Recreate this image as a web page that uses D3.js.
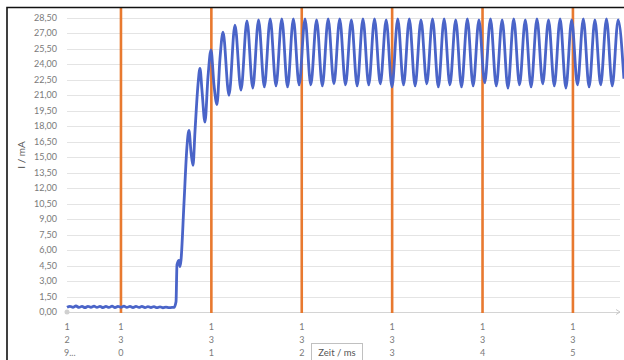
<!DOCTYPE html>
<html>
<head>
<meta charset="utf-8">
<script src="https://cdn.jsdelivr.net/npm/d3@7"></script>
<style>
  body { margin: 0; background: #fff; }
  svg { display: block; font-family: Lato, "Open Sans", sans-serif; }
</style>
</head>
<body>
<div class="canvas"></div>
<script>
// time axis (ms) - vertical char labels like the excel export
const xTickValues = [129.403, 130, 131, 132, 133, 134, 135];
const xTickLabels = ['129...', '130', '131', '132', '133', '134', '135'];
const markerTimes = [130, 131, 132, 133, 134, 135];

const yTickValues = [0, 1.5, 3, 4.5, 6, 7.5, 9, 10.5, 12, 13.5, 15, 16.5, 18, 19.5, 21, 22.5, 24, 25.5, 27, 28.5];
const yTickLabels = ['0,00', '1,50', '3,00', '4,50', '6,00', '7,50', '9,00', '10,50', '12,00', '13,50',
  '15,00', '16,50', '18,00', '19,50', '21,00', '22,50', '24,00', '25,50', '27,00', '28,50'];

// current trace (ms, mA)
const timeMs = [
  129.403, 129.436, 129.469, 129.502, 129.536, 129.569, 129.602, 129.635, 129.668, 129.702,
  129.735, 129.768, 129.801, 129.834, 129.868, 129.901, 129.934, 129.967, 130.000, 130.033,
  130.066, 130.100, 130.133, 130.166, 130.199, 130.232, 130.266, 130.299, 130.332, 130.365,
  130.399, 130.432, 130.465, 130.498, 130.531, 130.565, 130.587,
  130.609, 130.620, 130.642, 130.653, 130.664, 130.697, 130.730, 130.752, 130.775, 130.797,
  130.819, 130.852, 130.874, 130.896, 130.929, 130.963, 130.996, 131.029, 131.062, 131.095,
  131.129, 131.195, 131.261, 131.328,
  131.394, 131.458, 131.522, 131.586, 131.651, 131.715, 131.779, 131.843, 131.907, 131.971,
  132.036, 132.100, 132.164, 132.228, 132.292, 132.356, 132.420, 132.484, 132.549, 132.613,
  132.677, 132.741, 132.805, 132.869, 132.934, 132.998, 133.062, 133.126, 133.190, 133.254,
  133.319, 133.383, 133.447, 133.511, 133.575, 133.639, 133.703, 133.767, 133.832, 133.896,
  133.960, 134.024, 134.088, 134.152, 134.217, 134.281, 134.345, 134.409, 134.473, 134.537,
  134.602, 134.666, 134.730, 134.794, 134.858, 134.922, 134.986, 135.050, 135.115, 135.179,
  135.243, 135.307, 135.371, 135.435, 135.500, 135.564
];
const currentMa = [
  0.45, 0.55, 0.45, 0.58, 0.44, 0.55, 0.42, 0.55, 0.45, 0.56,
  0.44, 0.55, 0.42, 0.54, 0.44, 0.56, 0.43, 0.55, 0.45, 0.56,
  0.44, 0.55, 0.43, 0.55, 0.44, 0.54, 0.42, 0.53, 0.43, 0.52,
  0.42, 0.50, 0.41, 0.48, 0.42, 0.45, 0.45,
  1.0, 4.6, 5.0, 4.4, 5.0, 10.5, 16.0, 17.6, 15.5, 14.2,
  17.5, 22.0, 23.6, 21.5, 18.4, 22.8, 25.4, 22.0, 20.1, 24.5,
  27.1, 21.0, 27.8, 21.5,
  28.2, 21.7, 28.3, 21.8, 28.4, 21.9, 28.4, 21.8, 28.4, 22.0,
  28.4, 22.0, 28.3, 21.9, 28.4, 22.1, 28.4, 22.0, 28.3, 21.9,
  28.4, 22.0, 28.4, 22.1, 28.3, 21.8, 28.4, 22.0, 28.4, 21.9,
  28.3, 22.1, 28.4, 21.8, 28.4, 22.0, 28.3, 21.8, 28.4, 21.9,
  28.3, 22.2, 28.4, 21.9, 28.3, 21.7, 28.4, 22.0, 28.3, 21.8,
  28.4, 22.1, 28.3, 21.9, 28.4, 21.7, 28.3, 22.0, 28.4, 21.8,
  28.3, 22.0, 28.4, 21.9, 28.3, 22.6
];

const dims = { width: 624, height: 360 };
const plot = { left: 67, right: 624, top: 8, bottom: 312 };

const svg = d3.select('.canvas')
    .append('svg')
    .attr('width', dims.width)
    .attr('height', dims.height);

const x = d3.scaleLinear()
    .domain([129.403, 135.565])
    .range([plot.left, plot.right]);

const y = d3.scaleLinear()
    .domain([0, 29.45])
    .range([plot.bottom, plot.top]);

// horizontal gridlines
svg.append('g')
  .selectAll('line')
  .data(yTickValues)
  .enter().append('line')
    .attr('x1', plot.left)
    .attr('x2', 620)
    .attr('y1', d => Math.round(y(d)) + 0.5)
    .attr('y2', d => Math.round(y(d)) + 0.5)
    .attr('stroke', d => d === 0 ? '#d4d4d4' : '#e4e4e4')
    .attr('stroke-width', 1);

// y tick labels
svg.append('g')
  .selectAll('text')
  .data(yTickValues)
  .enter().append('text')
    .attr('x', 57)
    .attr('y', d => y(d))
    .attr('dy', '0.35em')
    .attr('text-anchor', 'end')
    .attr('font-size', 9)
    .attr('fill', '#7a7a7a')
    .text((d, i) => yTickLabels[i]);

// y title
svg.append('text')
    .attr('transform', 'translate(25,155) rotate(-90)')
    .attr('text-anchor', 'middle')
    .attr('font-size', 10)
    .attr('fill', '#555')
    .text('I / mA');

// orange marker lines
svg.append('g')
  .selectAll('line')
  .data(markerTimes)
  .enter().append('line')
    .attr('x1', d => x(d))
    .attr('x2', d => x(d))
    .attr('y1', plot.top)
    .attr('y2', plot.bottom + 1)
    .attr('stroke', '#e8792f')
    .attr('stroke-width', 2.6);

// current line
const line = d3.line()
    .x((d, i) => x(timeMs[i]))
    .y(d => y(d))
    .curve(d3.curveMonotoneX);

svg.append('path')
    .datum(currentMa)
    .attr('d', line)
    .attr('fill', 'none')
    .attr('stroke', '#4a64c8')
    .attr('stroke-width', 2.8)
    .attr('stroke-linejoin', 'round');

// x tick labels, one char per row
const xLabels = svg.append('g')
  .selectAll('g')
  .data(xTickValues)
  .enter().append('g')
    .attr('transform', d => `translate(${x(d)},0)`);

xLabels.each(function(d, i) {
    const chars = xTickLabels[i].length > 3
        ? [xTickLabels[i][0], xTickLabels[i][1], xTickLabels[i].slice(2)]
        : xTickLabels[i].split('');
    d3.select(this).selectAll('text')
      .data(chars)
      .enter().append('text')
        .attr('x', (c, j) => j === 2 && c.length > 1 ? -3 : 0)
        .attr('y', (c, j) => 327 + j * 13)
        .attr('dy', '0.35em')
        .attr('text-anchor', (c, j) => j === 2 && c.length > 1 ? 'start' : 'middle')
        .attr('font-size', 9)
        .attr('fill', '#7a7a7a')
        .text(c => c);
});

// little scroll markers on the axis
svg.append('circle')
    .attr('cx', plot.left)
    .attr('cy', plot.bottom)
    .attr('r', 2.5)
    .attr('fill', '#d0d0d0');
svg.append('path')
    .attr('d', `M616,${plot.bottom - 2.5}L620,${plot.bottom}L616,${plot.bottom + 2.5}`)
    .attr('fill', 'none')
    .attr('stroke', '#c8c8c8');

// x title box
svg.append('rect')
    .attr('x', 311.5)
    .attr('y', 343.5)
    .attr('width', 51)
    .attr('height', 20)
    .attr('fill', '#fff')
    .attr('stroke', '#c0c0c0');
svg.append('text')
    .attr('x', 337)
    .attr('y', 353)
    .attr('dy', '0.35em')
    .attr('text-anchor', 'middle')
    .attr('font-size', 9.5)
    .attr('fill', '#555')
    .text('Zeit / ms');

// black frame (top + left)
svg.append('path')
    .attr('d', 'M7,360V7.5H624')
    .attr('fill', 'none')
    .attr('stroke', '#111')
    .attr('stroke-width', 1.6);
</script>
</body>
</html>
